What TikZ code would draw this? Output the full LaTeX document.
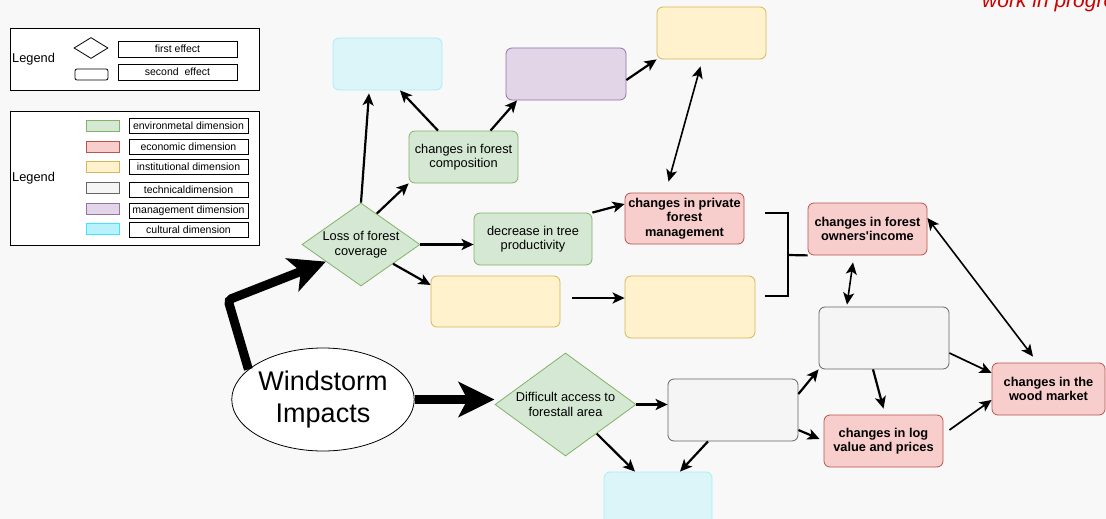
\documentclass[tikz,border=0pt]{standalone}
\usepackage{fontspec}
\setmainfont{Liberation Sans}
\usetikzlibrary{arrows.meta, shapes.geometric}

\definecolor{bgcol}{HTML}{F8F8F8}
\definecolor{wipred}{HTML}{CC0000}
\definecolor{envfill}{HTML}{D5E8D4}
\definecolor{envdraw}{HTML}{82B366}
\definecolor{ecofill}{HTML}{F8CECC}
\definecolor{ecodraw}{HTML}{B85450}
\definecolor{insfill}{HTML}{FFF2CC}
\definecolor{insdraw}{HTML}{D6B656}
\definecolor{tecfill}{HTML}{F5F5F5}
\definecolor{tecdraw}{HTML}{666666}
\definecolor{manfill}{HTML}{E1D5E7}
\definecolor{mandraw}{HTML}{9673A6}
\definecolor{culfill}{HTML}{DCF5F9}
\definecolor{culdraw}{HTML}{A8EEF5}
\definecolor{culkeyfill}{HTML}{B8F2FF}
\definecolor{culkeydraw}{HTML}{40E4FF}

\begin{document}
\begin{tikzpicture}[x = 1pt, y = -1pt,
	> = {Stealth[length = 12pt, width = 11pt, inset = 3pt]},
	arr/.style = {->, line width = 2.2pt},
	tarr/.style = {->, line width = 1.7pt},
	darr/.style = {<->, line width = 1.6pt},
	bigarr/.style = {-{Stealth[length = 36pt, width = 35pt, inset = 9pt]}, line width = 9pt},
	box/.style = {draw, rounded corners = 6pt, line width = 0.8pt, align = center, inner sep = 1pt, font = \fontsize{12.8}{14.5}\selectfont},
	env/.style = {box, draw = envdraw, fill = envfill},
	eco/.style = {box, draw = ecodraw, fill = ecofill, font = \fontsize{12.8}{14.4}\selectfont\bfseries},
	ins/.style = {box, draw = insdraw, fill = insfill},
	tec/.style = {box, draw = tecdraw, fill = tecfill},
	man/.style = {box, draw = mandraw, fill = manfill},
	cul/.style = {box, draw = culdraw, fill = culfill},
	effect/.style = {diamond, draw = envdraw, fill = envfill, line width = 0.8pt, inner sep = 0pt, align = center, font = \fontsize{12.8}{14.5}\selectfont},
	legframe/.style = {draw, line width = 0.8pt, fill = white, inner sep = 0pt},
	legtext/.style = {draw, line width = 0.8pt, fill = white, minimum width = 119, minimum height = 15, inner sep = 0pt, font = \fontsize{10.5}{12}\selectfont},
	swatch/.style = {line width = 0.8pt, minimum width = 33, minimum height = 11, inner sep = 0pt},
	bracket/.style = {line width = 2.2pt}]

	\useasboundingbox (0, 0) rectangle (1106, 519);
	\fill [bgcol] (0, 0) rectangle (1106, 519);
	\clip (0, 0) rectangle (1106, 519);

	% Status note

	\node [anchor = base west, text = wipred, inner sep = 0pt, font = \fontsize{21}{24}\selectfont\itshape] (wip) at (982, 8) {work in progress};

	% Legend of effects

	\node [legframe, minimum width = 249, minimum height = 62] (legA) at (134.5, 59) {};
	\node [anchor = west, inner sep = 0pt, font = \fontsize{12.8}{14}\selectfont] (legAtxt) at (12, 59) {Legend};
	\node [diamond, draw, line width = 0.8pt, minimum width = 34, minimum height = 21, inner sep = 0pt] (keyfirst) at (91, 48) {};
	\node [draw, rounded corners = 2pt, line width = 0.8pt, minimum width = 33, minimum height = 11, inner sep = 0pt] (keysecond) at (91.5, 74.5) {};
	\node [legtext, minimum height = 16] (labfirst) at (177.5, 49) {first effect};
	\node [legtext, minimum height = 16] (labsecond) at (177.5, 72) {second\ \ effect};

	% Legend of dimensions

	\node [legframe, minimum width = 249, minimum height = 134] (legB) at (134.5, 178) {};
	\node [anchor = west, inner sep = 0pt, font = \fontsize{12.8}{14}\selectfont] (legBtxt) at (12, 178) {Legend};
	\foreach \sw/\y/\ly/\txt [count = \i] in {env/126/126/environmetal dimension, eco/147/146.5/economic dimension, ins/167/167/institutional dimension, tec/188/190/technicaldimension, man/209/211/management dimension, culkey/229/230/cultural dimension} {
		\node [swatch, draw = \sw draw, fill = \sw fill] (sw\i) at (102.5, \y) {};
		\node [legtext] (lab\i) at (188.5, \ly) {\txt};
	}

	% Boxes

	\node [cul, minimum width = 109, minimum height = 52] (cultop) at (387.5, 64) {};
	\node [man, minimum width = 120, minimum height = 52] (mantop) at (566, 74) {};
	\node [ins, minimum width = 109, minimum height = 52] (instop) at (711.5, 33) {};
	\node [env, minimum width = 109, minimum height = 52] (compo) at (463.5, 157) {changes in forest\\composition};
	\node [env, minimum width = 118, minimum height = 52] (decr) at (533, 239) {decrease in tree\\productivity};
	\node [eco, minimum width = 119, minimum height = 51] (privman) at (684.5, 218.5) {changes in private\\forest\\management};
	\node [ins, minimum width = 129, minimum height = 51] (insmid) at (495.5, 301.5) {};
	\node [ins, minimum width = 130, minimum height = 62] (insright) at (690, 307) {};
	\node [eco, minimum width = 119, minimum height = 52] (income) at (867.5, 229) {changes in forest\\owners\textquotesingle income};
	\node [tec, minimum width = 130, minimum height = 62] (techup) at (884, 338) {};
	\node [tec, minimum width = 130, minimum height = 62] (techlow) at (733, 410) {};
	\node [eco, minimum width = 119, minimum height = 52] (logval) at (883.5, 441) {changes in log\\value and prices};
	\node [eco, minimum width = 113, minimum height = 52] (market) at (1048.5, 389) {changes in the\\wood market};
	\node [cul, minimum width = 108, minimum height = 54] (culbot) at (658, 499) {};

	% First effects

	\node [effect, aspect = 1.42, minimum width = 118, minimum height = 83] (loss) at (361, 244.5) {Loss of forest\\coverage};
	\node [effect, aspect = 1.37, minimum width = 141, minimum height = 103] (access) at (565.5, 404.5) {Difficult access to\\forestall area};

	% Windstorm

	\node [ellipse, draw, fill = white, line width = 0.8pt, minimum width = 172, minimum height = 103, inner sep = 0pt, align = center, font = \fontsize{27}{32}\selectfont] (storm) at (323, 399.5) {Windstorm\\Impacts};

	\coordinate (bend) at (228, 300);
	\draw [bigarr, rounded corners = 4pt] (storm.158) -- (bend) -- (loss.206);
	\draw [bigarr] (storm.east) -- (storm.east -| access.west);

	% Upper branch

	\draw [arr] (loss.north) -- ([xshift = -18.5pt, yshift = -3pt] cultop.south);
	\draw [arr] (loss.63) -- (compo.south west);
	\draw [arr] (loss.east) -- (loss.east -| decr.west);
	\draw [arr] (loss.-31) -- ([yshift = 16.5pt] insmid.west);
	\draw [arr] ([xshift = -25.5pt] compo.north) -- ([xshift = 12.5pt] cultop.south);
	\draw [arr] ([xshift = 27pt] compo.north) -- ([xshift = -49pt] mantop.south);
	\draw [arr] ([yshift = -6pt] mantop.east) -- (instop.south west);
	\draw [darr] ([xshift = -11pt, yshift = -7pt] instop.south) -- ([xshift = -16pt, yshift = 11pt] privman.north);
	\draw [arr] (decr.north east) -- ([yshift = 14.5pt] privman.west);
	\draw [arr] ([xshift = 12pt, yshift = 3.5pt] insmid.east) -- ([yshift = 9pt] insright.west);

	% Bracket to income

	\draw [bracket] (765, 213) -| (788, 296) -- (765, 296);
	\draw [bracket] (788, 255) -- (income.south west);

	% Lower branch

	\draw [arr] (access.east) -- (access.east -| techlow.west);
	\draw [arr] (access.-43) -- ([xshift = -23pt] culbot.north);
	\draw [arr] ([xshift = -25pt] techlow.south) -- ([xshift = 22pt] culbot.north);
	\draw [arr] ([yshift = 16pt] techlow.east) -- (techup.south west);
	\draw [arr] ([yshift = -20pt] techlow.east) -- ([xshift = -4pt, yshift = 2pt] logval.west);
	\draw [arr] ([xshift = -11pt] techup.south) -- ([yshift = 6pt] logval.north);
	\draw [tarr] ([yshift = -15pt] techup.east) -- ([yshift = 16pt] market.west);
	\draw [tarr] ([xshift = 6pt, yshift = 11pt] logval.east) -- ([yshift = -11pt] market.west);
	\draw [darr] ([xshift = -14.5pt, yshift = -7pt] income.south) -- ([xshift = -37pt, yshift = 2pt] techup.north);
	\draw [darr] ([yshift = 11pt] income.east) -- ([xshift = -15.5pt, yshift = 6pt] market.north);

\end{tikzpicture}
\end{document}
